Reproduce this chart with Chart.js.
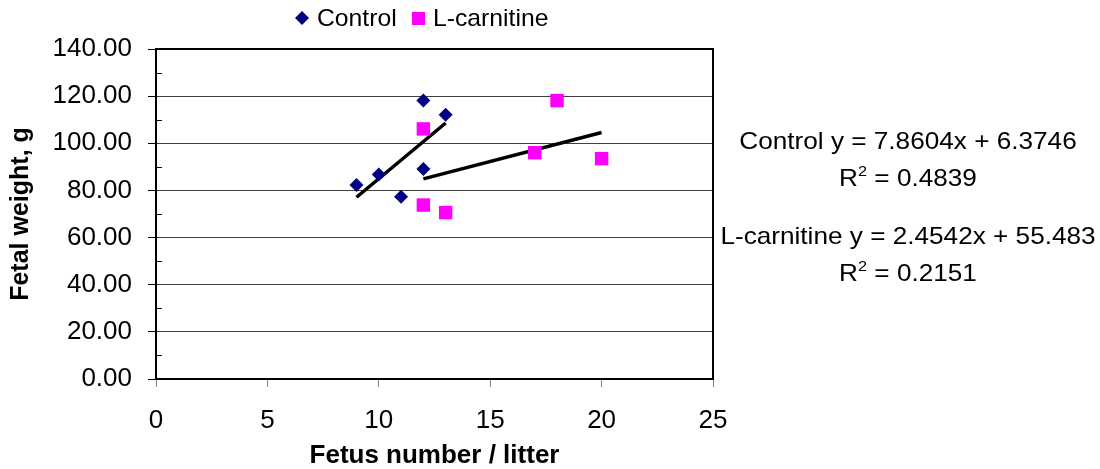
<!DOCTYPE html>
<html>
<head>
<meta charset="utf-8">
<script src="https://cdn.jsdelivr.net/npm/chart.js@4/dist/chart.umd.min.js"></script>
<style>
html,body{margin:0;padding:0;background:#fff;}
#wrap{width:1100px;height:469px;position:relative;}
</style>
</head>
<body>
<div id="wrap"><canvas id="c" width="1100" height="469"></canvas></div>
<script>
// ---- data ----
const controlX = [9, 10, 11, 12, 12, 13];
const controlY = [82.3, 86.8, 77.3, 118.1, 89.1, 112.1];
const carnitineX = [12, 12, 13, 17, 18, 20];
const carnitineY = [106.1, 73.8, 70.6, 96.0, 118.1, 93.5];
// trend line end points (as drawn in the reference)
const controlTrendX = [9, 13];
const controlTrendY = [77.1, 108.6];
const carnitineTrendX = [12, 20];
const carnitineTrendY = [84.9, 104.6];
const seriesNames = ['Control', 'L-carnitine'];
const equationLines = [
  ['Control y = 7.8604x + 6.3746', 'R', '2', ' = 0.4839'],
  ['L-carnitine y = 2.4542x + 55.483', 'R', '2', ' = 0.2151']
];
const xTitle = 'Fetus number / litter';
const yTitle = 'Fetal weight, g';

const pts = (xs, ys) => xs.map((x, i) => ({x: x, y: ys[i]}));
const FONT = '"Liberation Sans", Arial, sans-serif';
const NAVY = '#000080', MAG = '#FF00FF';
const STRETCH = 1.09;

const boxPlugin = {
  id: 'boxPlugin',
  afterDraw(chart) {
    const ctx = chart.ctx, a = chart.chartArea;
    const ys = chart.scales.y;
    ctx.save();
    // minor ticks on y axis (inside)
    ctx.strokeStyle = '#000';
    ctx.lineWidth = 1;
    for (let v = 10; v < 140; v += 20) {
      const py = Math.round(ys.getPixelForValue(v)) + 0.5;
      ctx.beginPath(); ctx.moveTo(a.left, py); ctx.lineTo(a.left + 6, py); ctx.stroke();
    }
    // plot frame
    ctx.lineWidth = 2;
    ctx.strokeStyle = '#000';
    ctx.strokeRect(a.left, a.top, a.right - a.left, a.bottom - a.top);
    // legend
    const ly = 18;
    ctx.fillStyle = NAVY;
    ctx.beginPath();
    ctx.moveTo(302, ly - 7); ctx.lineTo(309, ly); ctx.lineTo(302, ly + 7); ctx.lineTo(295, ly); ctx.closePath(); ctx.fill();
    ctx.fillStyle = MAG;
    ctx.fillRect(412, ly - 6, 13, 13);
    ctx.fillStyle = '#000';
    ctx.font = '24px ' + FONT;
    ctx.textBaseline = 'middle';
    ctx.textAlign = 'left';
    const drawStretched = (txt, x, y) => {
      ctx.save(); ctx.translate(x, y); ctx.scale(1.03, 1); ctx.fillText(txt, 0, 0); ctx.restore();
    };
    drawStretched(seriesNames[0], 317, ly + 1);
    drawStretched(seriesNames[1], 433, ly + 1);
    // equations
    const cx = 908;
    const drawEq = (line, y1, y2) => {
      ctx.save();
      ctx.translate(cx, 0);
      ctx.scale(STRETCH, 1);
      ctx.font = '24px ' + FONT;
      ctx.textAlign = 'center';
      ctx.textBaseline = 'alphabetic';
      ctx.fillText(line[0], 0, y1);
      const f1 = '24px ' + FONT, f2 = '15px ' + FONT;
      ctx.font = f1; const wR = ctx.measureText(line[1]).width;
      const wRest = ctx.measureText(line[3]).width;
      ctx.font = f2; const w2 = ctx.measureText(line[2]).width;
      const total = wR + w2 + wRest;
      let x = -total / 2;
      ctx.textAlign = 'left';
      ctx.font = f1; ctx.fillText(line[1], x, y2); x += wR;
      ctx.font = f2; ctx.fillText(line[2], x, y2 - 10); x += w2;
      ctx.font = f1; ctx.fillText(line[3], x, y2);
      ctx.restore();
    };
    drawEq(equationLines[0], 149, 186);
    drawEq(equationLines[1], 244, 281);
    ctx.restore();
  }
};

new Chart(document.getElementById('c'), {
  type: 'scatter',
  data: {
    datasets: [
      {
        label: seriesNames[0], data: pts(controlX, controlY),
        pointStyle: 'rectRot', pointRadius: 7, pointHoverRadius: 7,
        backgroundColor: NAVY, borderColor: NAVY, borderWidth: 0
      },
      {
        label: seriesNames[1], data: pts(carnitineX, carnitineY),
        pointStyle: 'rect', pointRadius: 9.5, pointHoverRadius: 9.5,
        backgroundColor: MAG, borderColor: MAG, borderWidth: 0
      },
      {
        type: 'line', label: 'Control trend', data: pts(controlTrendX, controlTrendY),
        borderColor: '#000', borderWidth: 3.5, pointRadius: 0, fill: false
      },
      {
        type: 'line', label: 'L-carnitine trend', data: pts(carnitineTrendX, carnitineTrendY),
        borderColor: '#000', borderWidth: 3.5, pointRadius: 0, fill: false
      }
    ]
  },
  options: {
    responsive: false,
    animation: false,
    devicePixelRatio: 1,
    layout: { padding: { left: 0, right: 387, top: 49, bottom: 0 } },
    plugins: { legend: { display: false }, tooltip: { enabled: false } },
    scales: {
      x: {
        type: 'linear', min: 0, max: 25,
        afterFit(s) { s.height = 90; },
        ticks: { stepSize: 5, color: '#000', font: { family: FONT, size: 26 }, padding: 18 },
        grid: { drawOnChartArea: false, tickLength: 8, tickColor: '#808080', tickWidth: 1 },
        border: { color: '#000', width: 2 },
        title: { display: true, text: xTitle, color: '#000', font: { family: FONT, size: 26, weight: 'bold', lineHeight: 1 }, padding: { top: 0, bottom: 0 } }
      },
      y: {
        type: 'linear', min: 0, max: 140,
        afterFit(s) { s.width = 156; },
        ticks: { stepSize: 20, color: '#000', font: { family: FONT, size: 26 }, padding: 16,
          callback: v => Number(v).toFixed(2) },
        grid: { color: '#404040', lineWidth: 1, tickLength: 8, tickColor: '#000', tickWidth: 1 },
        border: { color: '#000', width: 2 },
        title: { display: true, text: yTitle, color: '#000', font: { family: FONT, size: 25, weight: 'bold', lineHeight: 1 }, padding: { top: 9, bottom: 0 } }
      }
    }
  },
  plugins: [boxPlugin]
});
</script>
</body>
</html>
